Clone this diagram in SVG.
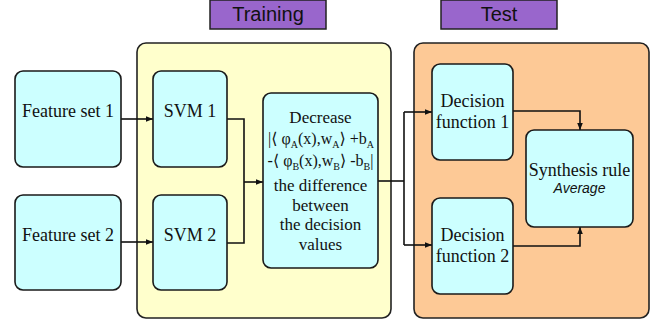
<svg xmlns="http://www.w3.org/2000/svg" width="666" height="320" viewBox="0 0 666 320">
<defs>
<marker id="ah" viewBox="0 0 10 10" refX="10" refY="5" markerWidth="7" markerHeight="7" markerUnits="userSpaceOnUse" orient="auto">
<path d="M0,1 L10,5 L0,9 z" fill="#111"/>
</marker>
<style>
.lab{fill:#9966cc;stroke:#222;stroke-width:1.5}
.labt{font-family:"Liberation Sans","DejaVu Sans",sans-serif;font-size:20px;fill:#111;text-anchor:middle}
.box{fill:#ccffff;stroke:#1a1a1a;stroke-width:1.6}
.t{font-family:"Liberation Serif","Times New Roman",serif;font-size:18px;fill:#111;text-anchor:middle}
.f{font-family:"Liberation Serif","DejaVu Serif",serif;font-size:17px;fill:#111;text-anchor:middle}
.m{font-size:16px}
.s{font-size:10px}
.c{fill:none;stroke:#111;stroke-width:1.6}
</style>
</defs>
<rect width="666" height="320" fill="#fff"/>
<g id="training-label"><rect class="lab" x="210" y="0" width="116" height="29"/><text class="labt" x="268" y="21">Training</text></g>
<g id="test-label"><rect class="lab" x="441" y="0" width="116" height="29"/><text class="labt" x="499" y="21">Test</text></g>
<g id="training-area"><rect x="137" y="43" width="254" height="275" rx="9" fill="#ffffcc" stroke="#222" stroke-width="1.6"/></g>
<g id="test-area"><rect x="414" y="43" width="235" height="275" rx="9" fill="#fdc996" stroke="#222" stroke-width="1.6"/></g>
<g id="connectors">
<path class="c" d="M121,119 H153" marker-end="url(#ah)"/>
<path class="c" d="M121,242 H153" marker-end="url(#ah)"/>
<path class="c" d="M227,119 H244 V243 H227"/>
<path class="c" d="M244,182 H263" marker-end="url(#ah)"/>
<path class="c" d="M378,181 H404"/>
<path class="c" d="M404,112 V245"/>
<path class="c" d="M404,112 H432" marker-end="url(#ah)"/>
<path class="c" d="M404,245 H432" marker-end="url(#ah)"/>
<path class="c" d="M513,111 H580 V130" marker-end="url(#ah)"/>
<path class="c" d="M513,246 H580 V227" marker-end="url(#ah)"/>
</g>
<g id="feature-set-1"><rect class="box" x="15" y="71" width="106" height="96" rx="8"/><text class="t" x="68" y="117">Feature set 1</text></g>
<g id="feature-set-2"><rect class="box" x="15" y="195" width="106" height="95" rx="8"/><text class="t" x="68" y="241">Feature set 2</text></g>
<g id="svm-1"><rect class="box" x="153" y="71" width="74" height="96" rx="8"/><text class="t" x="190" y="117">SVM 1</text></g>
<g id="svm-2"><rect class="box" x="153" y="195" width="74" height="95" rx="8"/><text class="t" x="190" y="241">SVM 2</text></g>
<g id="decrease"><rect class="box" x="263" y="93" width="115" height="175" rx="8"/>
<text class="f" x="320.5" y="123">Decrease</text>
<text class="f m" x="321" y="144">|⟨ φ<tspan class="s" dy="4">A</tspan><tspan dy="-4">(x),w</tspan><tspan class="s" dy="4">A</tspan><tspan dy="-4">⟩ +b</tspan><tspan class="s" dy="4">A</tspan></text>
<text class="f m" x="320.5" y="166">-⟨ φ<tspan class="s" dy="4">B</tspan><tspan dy="-4">(x),w</tspan><tspan class="s" dy="4">B</tspan><tspan dy="-4">⟩ -b</tspan><tspan class="s" dy="4">B</tspan><tspan dy="-4">|</tspan></text>
<text class="f" x="320.5" y="191">the difference</text>
<text class="f" x="320.5" y="211">between</text>
<text class="f" x="320.5" y="230">the decision</text>
<text class="f" x="320.5" y="250">values</text>
</g>
<g id="decision-1"><rect class="box" x="432" y="64" width="81" height="96" rx="8"/><text class="t" x="472.5" y="107">Decision</text><text class="t" x="472.5" y="128">function 1</text></g>
<g id="decision-2"><rect class="box" x="432" y="198" width="81" height="96" rx="8"/><text class="t" x="472.5" y="241">Decision</text><text class="t" x="472.5" y="262">function 2</text></g>
<g id="synthesis"><rect class="box" x="526" y="130" width="107" height="97" rx="8"/><text class="t" x="579.5" y="176">Synthesis rule</text><text x="579.5" y="193" font-family="Liberation Sans, Arial, sans-serif" font-style="italic" font-size="14" fill="#111" text-anchor="middle">Average</text></g>
</svg>
